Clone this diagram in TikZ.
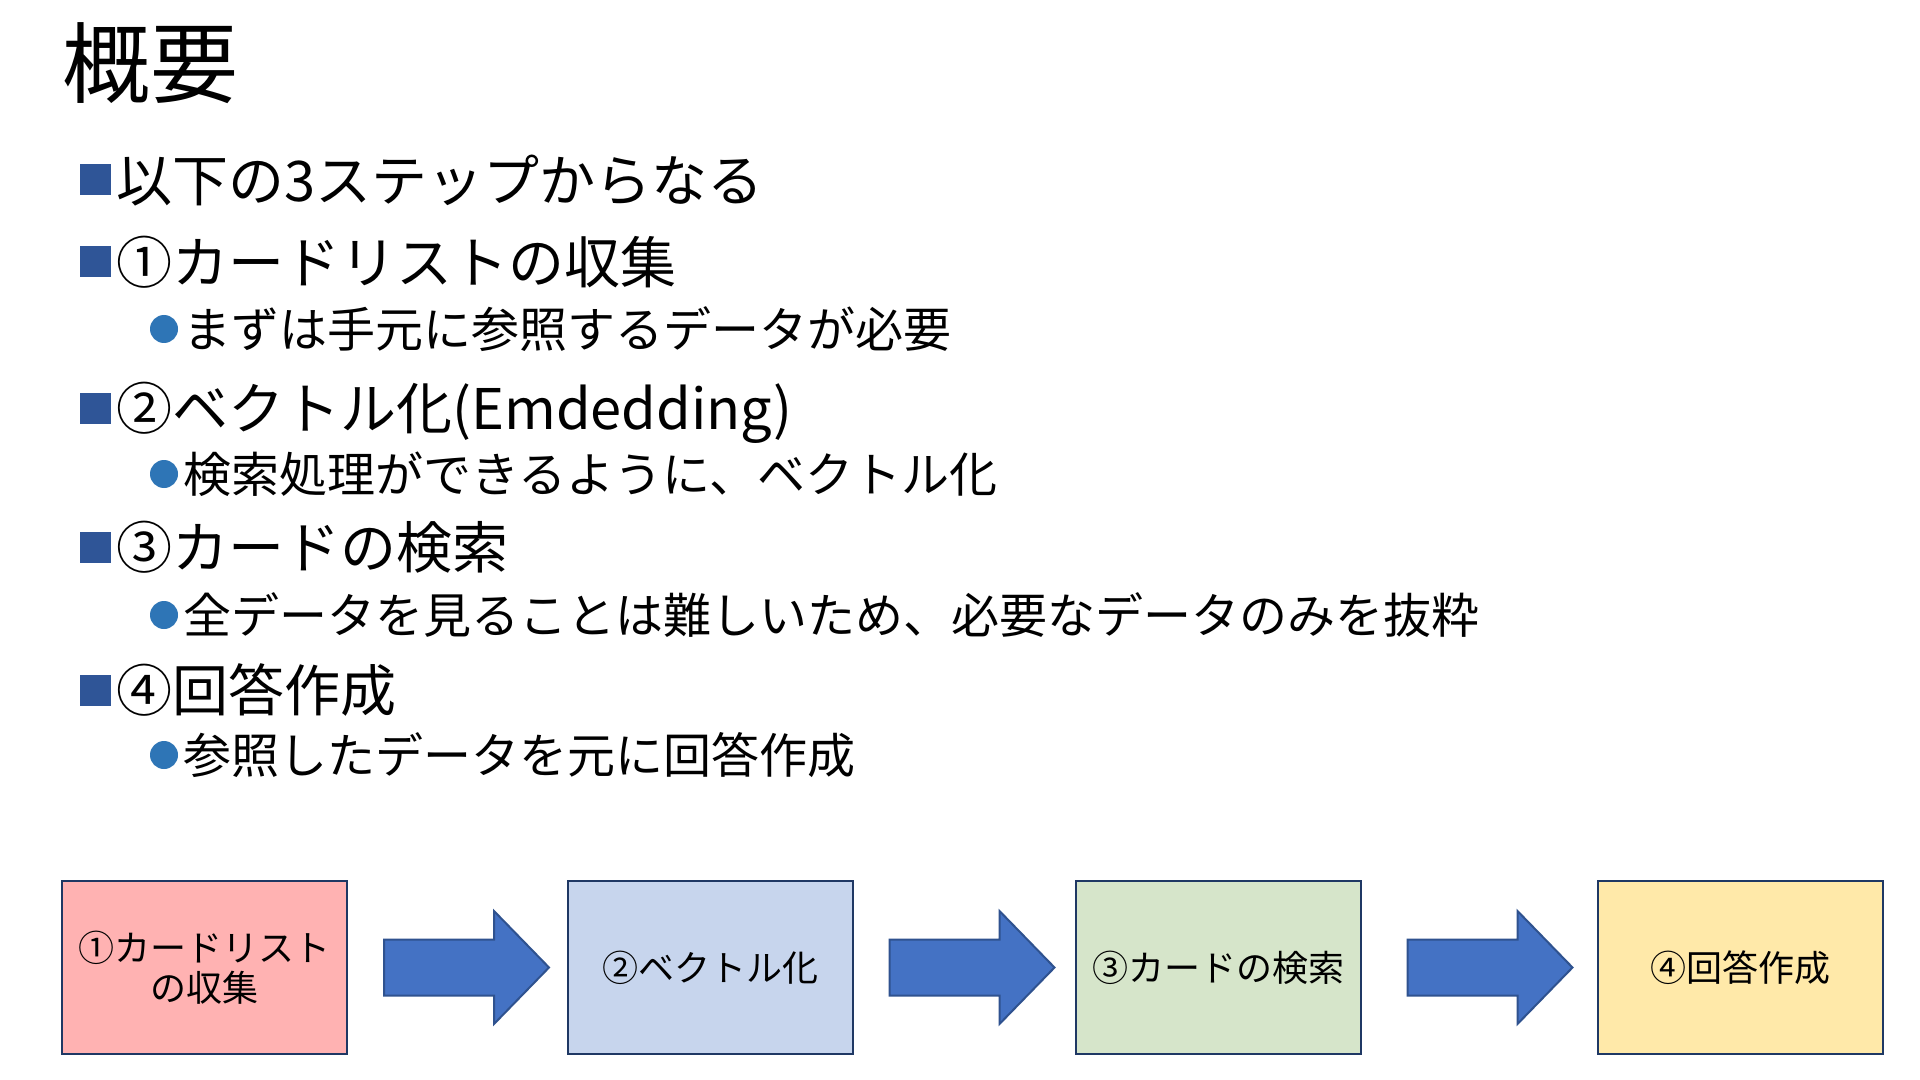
\documentclass[tikz,border=0pt]{standalone}
\usepackage{fontspec}
\setmainfont{Noto Sans CJK JP}
\usetikzlibrary{calc}
\definecolor{sqblue}{HTML}{2F5597}
\definecolor{dotblue}{HTML}{2E75B6}
\definecolor{boxline}{HTML}{1F3864}
\definecolor{arrowfill}{HTML}{4472C4}
\definecolor{arrowline}{HTML}{2F528F}
\definecolor{cardred}{HTML}{FFB2B2}
\definecolor{cardblue}{HTML}{C7D5ED}
\definecolor{cardgreen}{HTML}{D6E5CA}
\definecolor{cardyellow}{HTML}{FFE9A9}
\tikzset{
    stepbox/.style={draw=boxline, line width=1pt, minimum width=142.5pt, minimum height=86.5pt,
        inner sep=0pt, align=center, font=\fontsize{18}{20}\selectfont},
    blockarrow/.style={fill=arrowfill, draw=arrowline, line width=1pt, line join=miter},
    lvlone/.style={anchor=west, inner sep=0pt, text height=24.6pt, text depth=3.4pt,
        font=\fontsize{28}{32}\selectfont},
    lvltwo/.style={anchor=west, inner sep=0pt, text height=21.1pt, text depth=2.9pt,
        font=\fontsize{24}{28}\selectfont},
}
\begin{document}
\begin{tikzpicture}[x=0.5pt,y=-0.5pt]
    \useasboundingbox[fill=white] (0,0) rectangle (1920,1080);
    %% title
    \node[anchor=west, inner sep=0pt, text height=38.7pt, text depth=5.3pt,
        font=\fontsize{44}{48}\selectfont] (title) at (62,63) {概要};
    %% first level
    \foreach \y/\name/\txt in {180/l1/以下の3ステップからなる, 262/l2/①カードリストの収集,
        408/l3/②ベクトル化(Emdedding), 547/l4/③カードの検索, 690/l5/④回答作成} {
        \fill[sqblue] (79.5,\y-15.5) rectangle ++(31,31);
        \node[lvlone] (\name) at (116,\y) {\txt};
    }
    %% second level
    \foreach \y/\name/\txt in {329/s1/まずは手元に参照するデータが必要,
        474/s2/{検索処理ができるように、ベクトル化},
        615/s3/{全データを見ることは難しいため、必要なデータのみを抜粋},
        755/s4/参照したデータを元に回答作成} {
        \fill[dotblue] (164,\y) circle (14);
        \node[lvltwo] (\name) at (183,\y) {\txt};
    }
    %% flow
    \node[stepbox, fill=cardred] (c1) at (204.5,967.5) {①カードリスト\\の収集};
    \node[stepbox, fill=cardblue] (c2) at (710,967.5) {②ベクトル化};
    \node[stepbox, fill=cardgreen] (c3) at (1218,967.5) {③カードの検索};
    \node[stepbox, fill=cardyellow] (c4) at (1740,967.5) {④回答作成};
    \foreach \a/\g in {c1/36, c2/36, c3/46}
        \draw[blockarrow] ($(\a.east)+(\g,-28)$) -- ++(110,0) -- ++(0,-28.5) -- ++(55,56.5)
            -- ++(-55,56.5) -- ++(0,-28.5) -- ++(-110,0) -- cycle;
\end{tikzpicture}
\end{document}
